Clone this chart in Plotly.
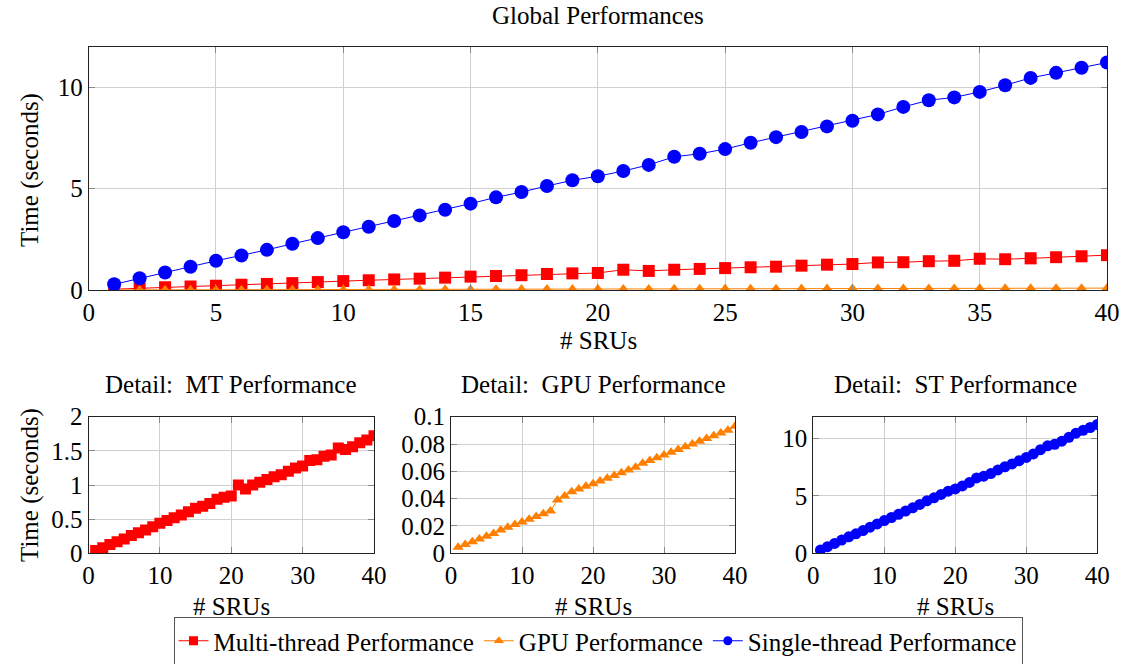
import plotly.graph_objects as go

srus = list(range(1, 41))
mt_time = [0.04, 0.08, 0.13, 0.17, 0.21, 0.26, 0.30, 0.34, 0.39, 0.44,
           0.48, 0.52, 0.56, 0.61, 0.66, 0.69, 0.73, 0.79, 0.82, 0.84,
           1.00, 0.94, 1.00, 1.04, 1.08, 1.12, 1.15, 1.20, 1.25, 1.28,
           1.36, 1.37, 1.42, 1.44, 1.54, 1.52, 1.56, 1.62, 1.66, 1.72]
gpu_time = [0.0045, 0.0065, 0.0085, 0.0105, 0.0125, 0.0145, 0.017, 0.019, 0.021, 0.023,
            0.025, 0.027, 0.029, 0.031, 0.039, 0.042, 0.045, 0.047, 0.049, 0.051,
            0.053, 0.055, 0.057, 0.059, 0.061, 0.063, 0.066, 0.068, 0.070, 0.072,
            0.074, 0.076, 0.078, 0.080, 0.082, 0.084, 0.086, 0.088, 0.090, 0.093]
st_time = [0.28, 0.58, 0.86, 1.15, 1.44, 1.70, 1.98, 2.28, 2.56, 2.85,
           3.12, 3.40, 3.68, 3.96, 4.26, 4.57, 4.83, 5.13, 5.41, 5.61,
           5.87, 6.17, 6.57, 6.72, 6.95, 7.26, 7.54, 7.79, 8.07, 8.35,
           8.66, 9.03, 9.36, 9.50, 9.77, 10.10, 10.46, 10.71, 10.96, 11.22]

series_names = ["Multi-thread Performance", "GPU Performance", "Single-thread Performance"]
main_xticks = [0, 5, 10, 15, 20, 25, 30, 35, 40]
main_yticks = [0, 5, 10]
detail_xticks = [0, 10, 20, 30, 40]
mt_yticks = [0, 0.5, 1, 1.5, 2]
mt_ytext = ["0", "0.5", "1", "1.5", "2"]
gpu_yticks = [0, 0.02, 0.04, 0.06, 0.08, 0.1]
gpu_ytext = ["0", "0.02", "0.04", "0.06", "0.08", "0.1"]
st_yticks = [0, 5, 10]

RED = "#ff0000"
ORANGE = "#ff8000"
BLUE = "#0000ff"
FONT = "Liberation Serif"
FS = 25

colors = [RED, ORANGE, BLUE]
symbols = ["square", "triangle-up", "circle"]
series = [mt_time, gpu_time, st_time]
main_sizes = [12, 10, 14]
detail_sizes = [11, 10, 11]
detail_axes = [("x2", "y2"), ("x3", "y3"), ("x4", "y4")]

fig = go.Figure()

# main plot
for name, vals, c, s, sz in zip(series_names, series, colors, symbols, main_sizes):
    fig.add_trace(go.Scatter(x=srus, y=vals, mode="lines+markers", name=name,
                             showlegend=False, legendgroup=name,
                             line=dict(color=c, width=1),
                             marker=dict(symbol=s, size=sz, color=c),
                             xaxis="x", yaxis="y"))

# details
for name, vals, c, s, sz, (xa, ya) in zip(series_names, series, colors, symbols, detail_sizes, detail_axes):
    fig.add_trace(go.Scatter(x=srus, y=vals, mode="lines+markers", name=name,
                             showlegend=False, legendgroup=name,
                             line=dict(color=c, width=1),
                             marker=dict(symbol=s, size=sz, color=c),
                             xaxis=xa, yaxis=ya))

# legend entries (smaller symbols like the original legend)
for name, c, s in zip(series_names, colors, symbols):
    fig.add_trace(go.Scatter(x=[None], y=[None], mode="lines+markers", name=name,
                             legendgroup=name, showlegend=True,
                             line=dict(color=c, width=1),
                             marker=dict(symbol=s, size=9, color=c),
                             xaxis="x", yaxis="y"))

W, H = 1125, 664

def ax(domain, rng, tickvals, ticktext=None, anchor=None):
    d = dict(domain=domain, range=rng, tickmode="array", tickvals=tickvals,
             showgrid=True, gridcolor="#d0d0d0", gridwidth=1,
             showline=True, linecolor="#222222", linewidth=1, mirror="ticks",
             ticks="inside", ticklen=6, tickcolor="#888888",
             tickfont=dict(family=FONT, size=FS, color="black"),
             zeroline=False, anchor=anchor, fixedrange=True, automargin=False)
    if ticktext is not None:
        d["ticktext"] = ticktext
    return d

main_x = [88.7 / W, 1107 / W]
main_y = [1 - 290 / H, 1 - 46.7 / H]
d_y = [1 - 553.3 / H, 1 - 416.7 / H]
mt_x = [88.5 / W, 374 / W]
gpu_x = [451 / W, 735 / W]
st_x = [813.3 / W, 1097.3 / W]

def txt(s, x, y, angle=0):
    return dict(text=s, x=x / W, y=1 - y / H, xref="paper", yref="paper",
                showarrow=False, xanchor="center", yanchor="middle", textangle=angle,
                font=dict(family=FONT, size=FS, color="black"))

fig.update_layout(
    width=W, height=H,
    margin=dict(l=0, r=0, t=0, b=0, autoexpand=False),
    paper_bgcolor="white", plot_bgcolor="white",
    font=dict(family=FONT, size=FS, color="black"),
    xaxis=ax(main_x, [0, 40], main_xticks, anchor="y"),
    yaxis=ax(main_y, [0, 12], main_yticks, anchor="x"),
    xaxis2=ax(mt_x, [0, 40], detail_xticks, anchor="y2"),
    yaxis2=ax(d_y, [0, 2], mt_yticks, mt_ytext, anchor="x2"),
    xaxis3=ax(gpu_x, [0, 40], detail_xticks, anchor="y3"),
    yaxis3=ax(d_y, [0, 0.1], gpu_yticks, gpu_ytext, anchor="x3"),
    xaxis4=ax(st_x, [0, 40], detail_xticks, anchor="y4"),
    yaxis4=ax(d_y, [0, 11.9], st_yticks, anchor="x4"),
    showlegend=True,
    legend=dict(orientation="h", x=598 / W, xanchor="center", y=1 - 641 / H, yanchor="middle",
                bordercolor="#555555", borderwidth=1, bgcolor="white",
                font=dict(family=FONT, size=FS, color="black"),
                tracegroupgap=0, itemclick=False, itemdoubleclick=False),
    annotations=[
        txt("Global Performances", 598, 16),
        txt("# SRUs", 598, 341),
        txt("Time (seconds)", 30, 170, -90),
        txt("Detail:  MT Performance", 231, 384),
        txt("Detail:  GPU Performance", 593, 384),
        txt("Detail:  ST Performance", 955, 384),
        txt("Time (seconds)", 30, 485, -90),
        txt("# SRUs", 231, 606),
        txt("# SRUs", 593, 606),
        txt("# SRUs", 955, 606),
    ],
)

fig.write_html("out.html")
